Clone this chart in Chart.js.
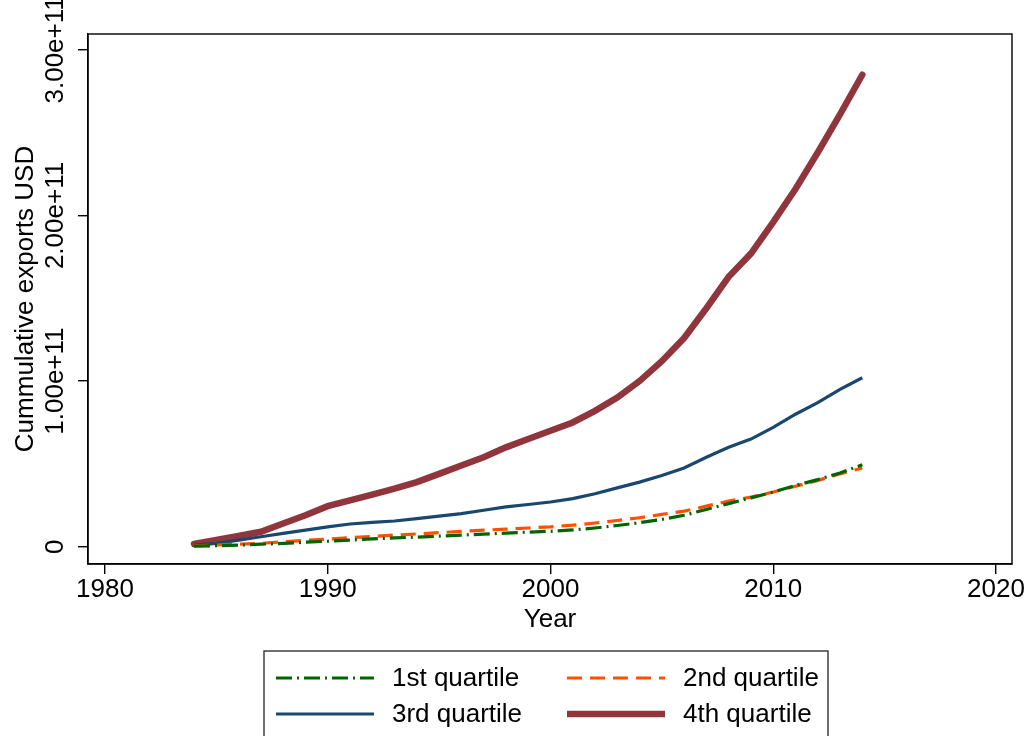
<!DOCTYPE html>
<html>
<head>
<meta charset="utf-8">
<script src="https://cdn.jsdelivr.net/npm/chart.js@4.4.1/dist/chart.umd.min.js"></script>
<style>
  body { margin: 0; background: #fff; }
  canvas { display: block; }
</style>
</head>
<body>
<canvas id="myChart" width="1031" height="736"></canvas>
<script>
const FONT = "'Liberation Sans', Arial, Helvetica, sans-serif";
const FSIZE = 26;

const years = [1984, 1985, 1986, 1987, 1988, 1989, 1990, 1991, 1992, 1993, 1994,
    1995, 1996, 1997, 1998, 1999, 2000, 2001, 2002, 2003, 2004,
    2005, 2006, 2007, 2008, 2009, 2010, 2011, 2012, 2013, 2014];

// cumulative exports, in units of 1e11 USD
const q1 = [0.003, 0.006, 0.010, 0.015, 0.020, 0.027, 0.033, 0.040, 0.047, 0.053, 0.058,
    0.064, 0.070, 0.076, 0.082, 0.088, 0.093, 0.101, 0.113, 0.128, 0.145,
    0.165, 0.190, 0.225, 0.260, 0.295, 0.330, 0.370, 0.405, 0.445, 0.495];
const q2 = [0.005, 0.010, 0.015, 0.020, 0.030, 0.038, 0.046, 0.054, 0.062, 0.070, 0.077,
    0.085, 0.092, 0.100, 0.106, 0.113, 0.120, 0.130, 0.143, 0.158, 0.175,
    0.195, 0.215, 0.245, 0.275, 0.300, 0.330, 0.365, 0.400, 0.440, 0.475];
const q3 = [0.010, 0.020, 0.040, 0.060, 0.080, 0.100, 0.120, 0.137, 0.147, 0.155, 0.170,
    0.185, 0.200, 0.220, 0.240, 0.255, 0.270, 0.290, 0.320, 0.355, 0.390,
    0.430, 0.475, 0.540, 0.600, 0.650, 0.720, 0.800, 0.870, 0.950, 1.020];
const q4 = [0.016, 0.040, 0.065, 0.090, 0.140, 0.190, 0.245, 0.280, 0.315, 0.350, 0.390,
    0.440, 0.490, 0.540, 0.600, 0.650, 0.700, 0.750, 0.820, 0.900, 1.000,
    1.120, 1.260, 1.440, 1.630, 1.770, 1.960, 2.160, 2.380, 2.610, 2.850];

const seriesNames = ['1st quartile', '2nd quartile', '3rd quartile', '4th quartile'];
const xTicks = [1980, 1990, 2000, 2010, 2020];
const yTicks = [0, 1, 2, 3];
const yTickLabels = ['0', '1.00e+11', '2.00e+11', '3.00e+11'];

const toPoints = (vals) => years.map((y, i) => ({ x: y, y: vals[i] }));

// frame, rotated y labels, axis titles and the boxed legend
const stataLook = {
    id: 'stataLook',
    afterDraw(chart) {
        const ctx = chart.ctx;
        const a = chart.chartArea;
        const yScale = chart.scales.y;
        ctx.save();
        ctx.strokeStyle = '#000';
        ctx.lineWidth = 1.4;
        ctx.strokeRect(a.left, a.top, a.right - a.left, a.bottom - a.top);

        ctx.fillStyle = '#000';
        ctx.font = FSIZE + 'px ' + FONT;
        ctx.textAlign = 'center';
        ctx.textBaseline = 'middle';
        yTicks.forEach((v, i) => {
            ctx.save();
            ctx.translate(56, yScale.getPixelForValue(v));
            ctx.rotate(-Math.PI / 2);
            ctx.fillText(yTickLabels[i], 0, 0);
            ctx.restore();
        });
        ctx.save();
        ctx.translate(26, (a.top + a.bottom) / 2);
        ctx.rotate(-Math.PI / 2);
        ctx.fillText('Cummulative exports USD', 0, 0);
        ctx.restore();
        ctx.fillText('Year', (a.left + a.right) / 2, 620);

        // legend
        ctx.lineWidth = 1.4;
        ctx.strokeStyle = '#333';
        ctx.strokeRect(264, 651, 564, 100);
        const slots = [[276, 678], [567, 678], [276, 714], [567, 714]];
        chart.data.datasets.forEach((ds, i) => {
            const [sx, sy] = slots[i];
            ctx.save();
            ctx.strokeStyle = ds.borderColor;
            ctx.lineWidth = ds.borderWidth;
            ctx.setLineDash(ds.borderDash || []);
            ctx.lineCap = 'butt';
            ctx.beginPath();
            ctx.moveTo(sx, sy);
            ctx.lineTo(sx + 98, sy);
            ctx.stroke();
            ctx.restore();
            ctx.textAlign = 'left';
            ctx.fillText(ds.label, sx + 116, sy + 1);
        });
        ctx.restore();
    }
};

const ctx = document.getElementById('myChart').getContext('2d');
const myChart = new Chart(ctx, {
    type: 'line',
    data: {
        datasets: [{
            label: seriesNames[0],
            data: toPoints(q1),
            borderColor: 'rgb(0, 100, 0)',
            borderWidth: 3.2,
            borderDash: [16, 5, 2, 5]
        }, {
            label: seriesNames[1],
            data: toPoints(q2),
            borderColor: 'rgb(255, 80, 0)',
            borderWidth: 3.2,
            borderDash: [15, 8]
        }, {
            label: seriesNames[2],
            data: toPoints(q3),
            borderColor: 'rgb(26, 71, 111)',
            borderWidth: 3.2
        }, {
            label: seriesNames[3],
            data: toPoints(q4),
            borderColor: 'rgb(144, 53, 59)',
            borderWidth: 6.5,
            borderCapStyle: 'round'
        }]
    },
    options: {
        responsive: false,
        animation: false,
        devicePixelRatio: 1,
        elements: { point: { radius: 0 }, line: { tension: 0, fill: false } },
        layout: { padding: { top: 34, right: 19, bottom: 0, left: 0 } },
        plugins: { legend: { display: false }, tooltip: { enabled: false } },
        scales: {
            x: {
                type: 'linear',
                min: 1979.24,
                max: 2020.72,
                afterBuildTicks: (s) => { s.ticks = xTicks.map(v => ({ value: v })); },
                afterFit: (s) => { s.height = 172; },
                grid: { drawOnChartArea: false, drawTicks: true, tickLength: 10, color: '#000', lineWidth: 1.4 },
                border: { display: true, color: '#000', width: 1.4 },
                ticks: {
                    color: '#000',
                    font: { family: FONT, size: FSIZE },
                    padding: 0,
                    maxRotation: 0,
                    callback: (v) => String(v)
                }
            },
            y: {
                type: 'linear',
                min: -0.1045,
                max: 3.096,
                afterBuildTicks: (s) => { s.ticks = yTicks.map(v => ({ value: v })); },
                afterFit: (s) => { s.width = 88; },
                grid: { drawOnChartArea: false, drawTicks: true, tickLength: 10, color: '#000', lineWidth: 1.4 },
                border: { display: true, color: '#000', width: 1.4 },
                ticks: { display: false }
            }
        }
    },
    plugins: [stataLook]
});
</script>
</body>
</html>
